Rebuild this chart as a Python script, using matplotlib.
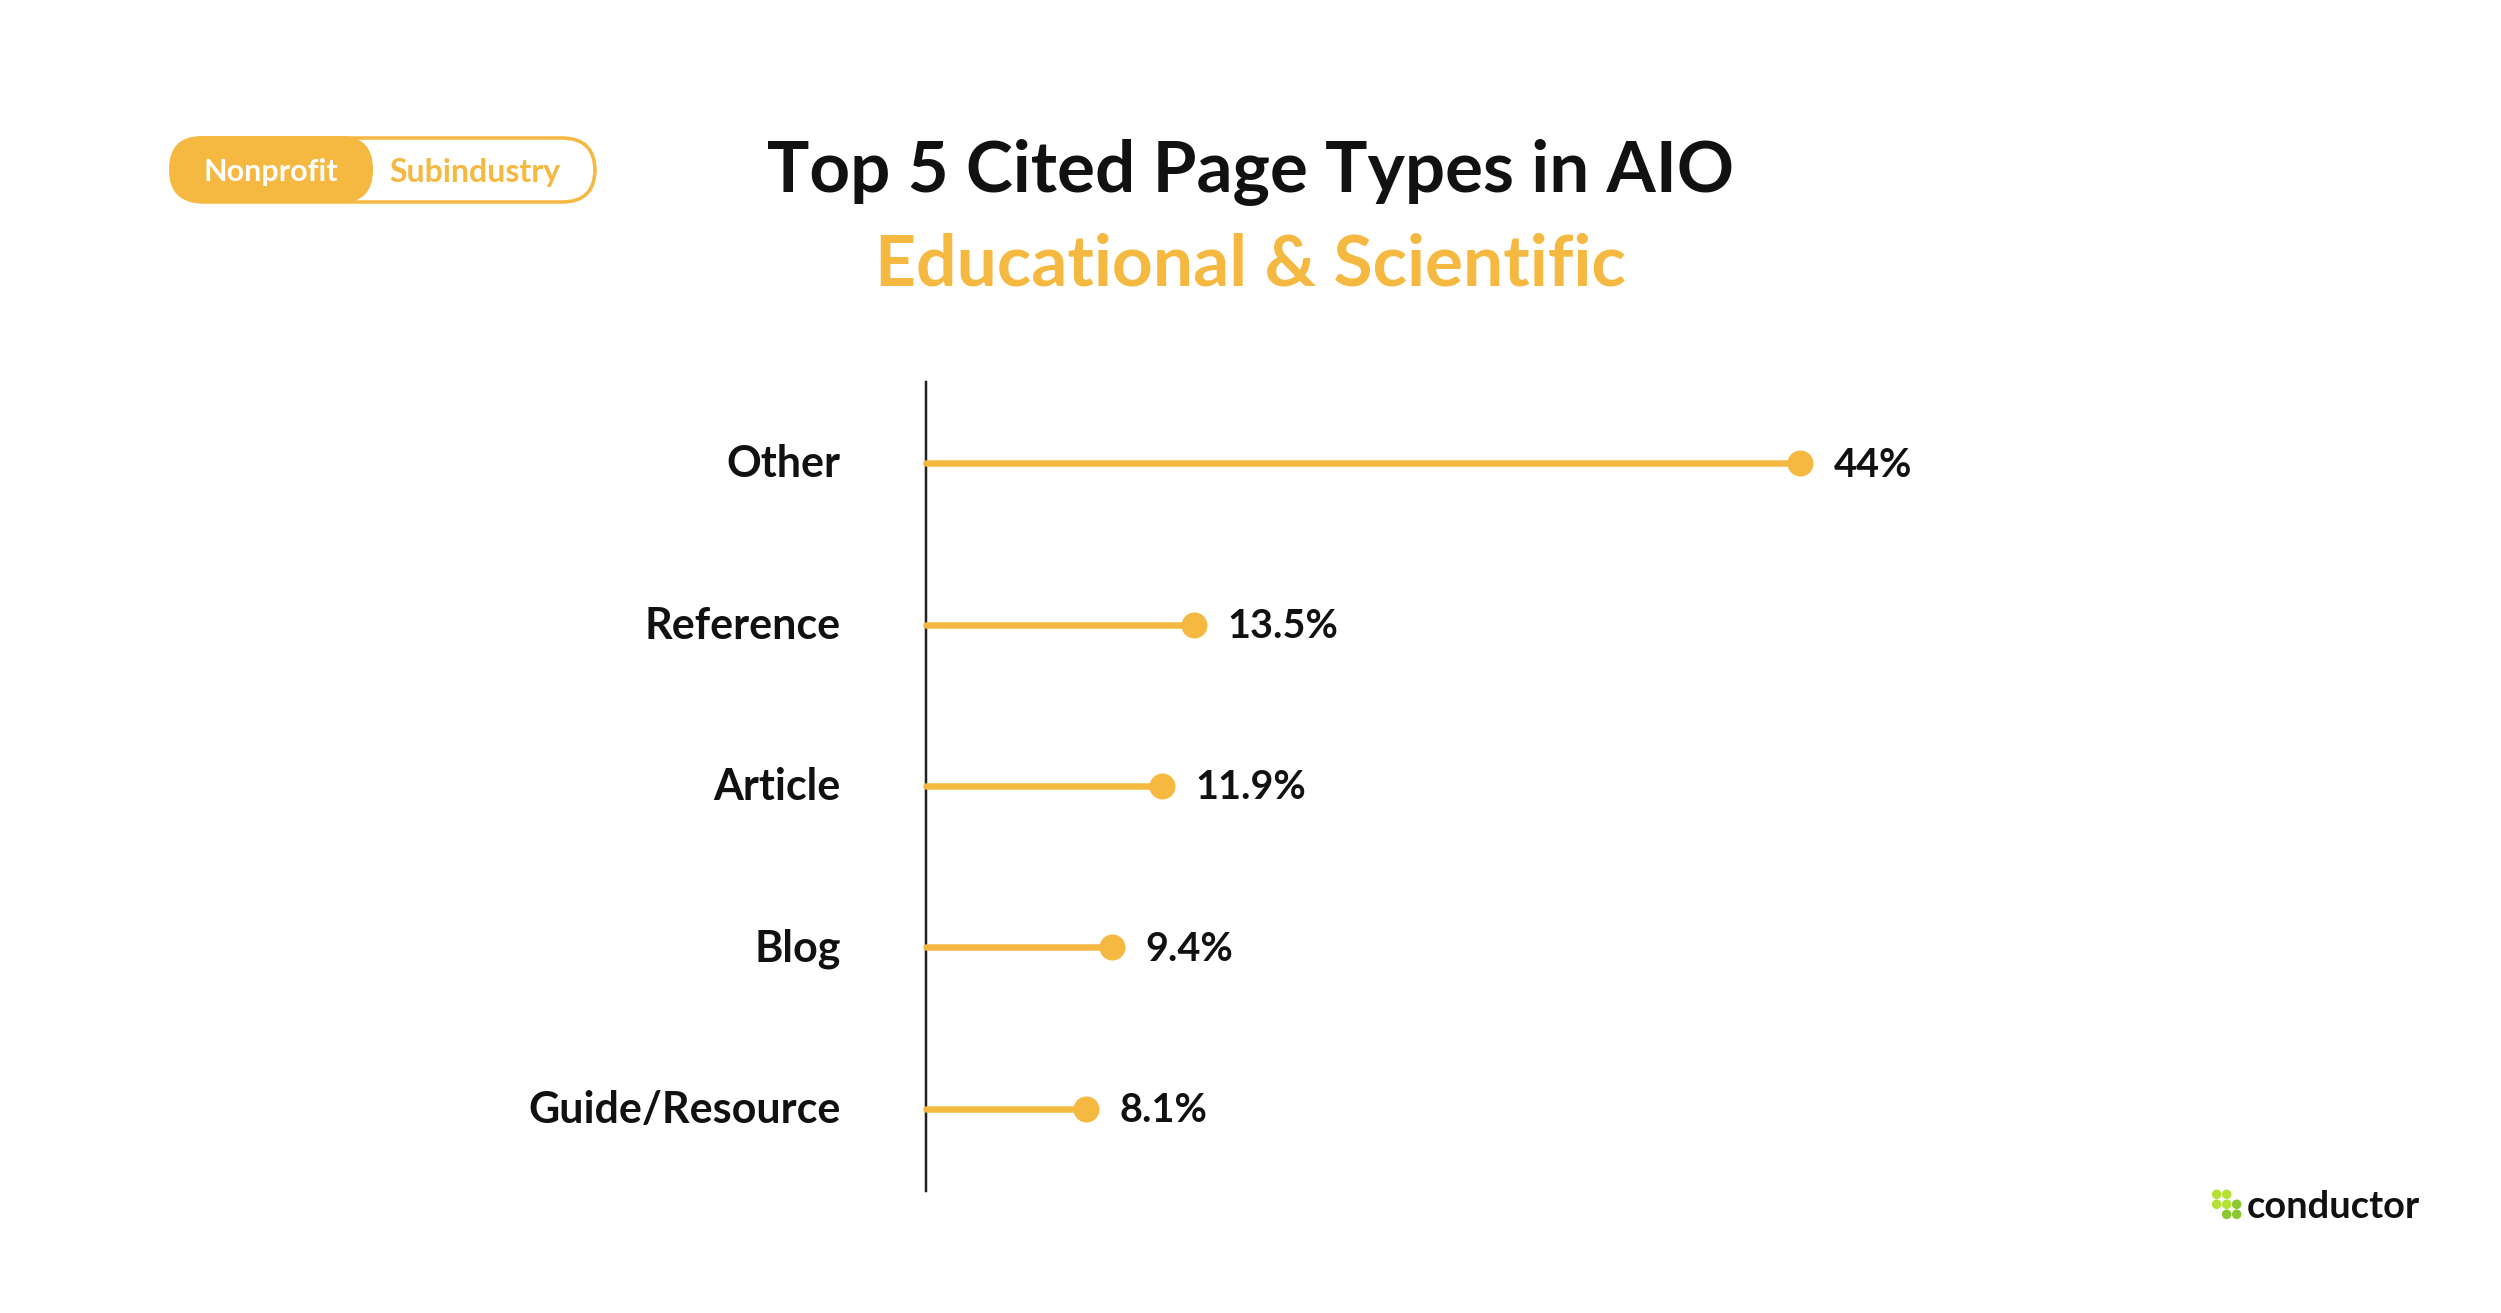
import matplotlib
matplotlib.use("Agg")
import matplotlib.pyplot as plt
from matplotlib.patches import FancyBboxPatch, Circle
from matplotlib.transforms import ScaledTranslation

plt.rcParams['font.family'] = ['Lato', 'DejaVu Sans']

# data
categories = ['Other', 'Reference', 'Article', 'Blog', 'Guide/Resource']
values = [44, 13.5, 11.9, 9.4, 8.1]
value_labels = ['44%', '13.5%', '11.9%', '9.4%', '8.1%']
title_top = 'Top 5 Cited Page Types in AIO'
title_bottom = 'Educational & Scientific'
pill_labels = ['Nonprofit', 'Subindustry']
logo_text = 'conductor'

W, H = 2501, 1313
YELLOW = '#F5B841'
DARK = '#111111'
px = 0.72  # one pixel in points at dpi 100

fig = plt.figure(figsize=(W / 100, H / 100), dpi=100, facecolor='white')

# ----------------------
# chart
# ----------------------
ax = fig.add_axes([925.5 / W, (H - 1191) / H, (1800 - 925.5) / W, (1191 - 382) / H])
ypos = list(range(len(categories)))
ax.set_xlim(0, 44)
ax.set_ylim(4.51, -0.503)
ax.hlines(ypos, 0, values, color=YELLOW, lw=6.5 * px, capstyle='round', zorder=3, clip_on=False)
ax.scatter(values, ypos, s=(26 * px) ** 2, color=YELLOW, linewidths=0, zorder=4, clip_on=False)

for spine in ['top', 'right', 'bottom']:
    ax.spines[spine].set_visible(False)
ax.spines['left'].set_linewidth(2.5 * px)
ax.spines['left'].set_color('#222222')
ax.set_xticks([])
ax.set_yticks(ypos)
ax.set_yticklabels(categories, fontsize=31, fontweight='bold', color=DARK)
ax.tick_params(axis='y', length=0, pad=85 * px)
shift_up = ScaledTranslation(0, 2.5 / 100, fig.dpi_scale_trans)
for label in ax.get_yticklabels():
    label.set_transform(label.get_transform() + shift_up)

for v, y, label in zip(values, ypos, value_labels):
    ax.annotate(label, (v, y), xytext=(33.5 * px, 1.5 * px), textcoords='offset points',
                va='center_baseline', ha='left', fontsize=28.5, fontweight='bold', color=DARK)

# ----------------------
# overlay in pixel coordinates: titles, pill, logo
# ----------------------
over = fig.add_axes([0, 0, 1, 1], zorder=5)
over.set_xlim(0, W)
over.set_ylim(H, 0)
over.axis('off')
over.patch.set_alpha(0)

over.text(1251, 166, title_top, ha='center', va='center_baseline', fontsize=51,
          fontweight='bold', color=DARK)
over.text(1250, 259, title_bottom, ha='center', va='center_baseline', fontsize=51.4,
          fontweight='bold', color=YELLOW)

r = 33
over.add_patch(FancyBboxPatch((171 + r, 138 + r), 424 - 2 * r, 64 - 2 * r,
                              boxstyle=f'round,pad={r},rounding_size={r}',
                              fc='white', ec=YELLOW, lw=3.5 * px))
over.add_patch(FancyBboxPatch((169 + r, 136 + r), 204 - 2 * r, 67 - 2 * r,
                              boxstyle=f'round,pad={r},rounding_size={r}',
                              fc=YELLOW, ec='none'))
over.text(271, 170, pill_labels[0], ha='center', va='center_baseline', fontsize=22,
          fontweight='bold', color='white')
over.text(475, 170, pill_labels[1], ha='center', va='center_baseline', fontsize=23,
          fontweight='bold', color=YELLOW)

dots = [(2216.7, 1194.3, '#B5E035'), (2226.7, 1194.3, '#B5E035'),
        (2216.7, 1204.3, '#B5E035'), (2226.7, 1204.3, '#B5E035'),
        (2236.7, 1204.3, '#8CC832'), (2226.7, 1214.3, '#8CC832'),
        (2236.7, 1214.3, '#8CC832')]
for x, y, c in dots:
    over.add_patch(Circle((x, y), 4.8, fc=c, ec='none'))
over.text(2420, 1218, logo_text, ha='right', va='baseline', fontsize=27.4,
          fontweight='bold', color=DARK)

fig.savefig('out.png', dpi=100, facecolor='white')
